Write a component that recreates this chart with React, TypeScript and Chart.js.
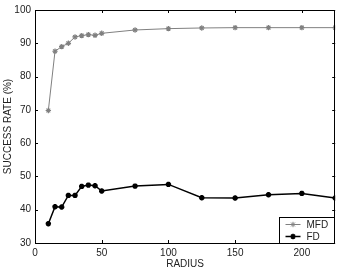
import React, { useEffect, useRef } from "react";
import { Chart, registerables } from "chart.js";
import { drawPoint } from "chart.js/helpers";

Chart.register(...registerables);

const radius = [10, 15, 20, 25, 30, 35, 40, 45, 50, 75, 100, 125, 150, 175, 200, 225];
const mfd = [69.8, 87.6, 89.0, 90.0, 91.9, 92.3, 92.6, 92.4, 93.0, 94.0, 94.4, 94.6, 94.7, 94.7, 94.7, 94.7];
const fd = [35.8, 40.9, 40.8, 44.3, 44.3, 47.0, 47.4, 47.2, 45.6, 47.1, 47.6, 43.6, 43.5, 44.5, 44.9, 43.5];
const seriesLabels = ["MFD", "FD"];
const xTicks = [0, 50, 100, 150, 200];
const yTicks = [30, 40, 50, 60, 70, 80, 90, 100];

const FONT = "'Liberation Sans', Arial, sans-serif";
const GRAY = "#808080";
const TXT = "#222";

const framePlugin = {
  id: "frame",
  afterDraw(chart: any) {
    const { ctx, chartArea: ca } = chart;
    const xs = chart.scales.x;
    const ys = chart.scales.y;
    ctx.save();
    ctx.strokeStyle = "#000";
    ctx.lineWidth = 1;
    ctx.strokeRect(Math.round(ca.left) + 0.5, Math.round(ca.top) + 0.5, Math.round(ca.right - ca.left) - 1, Math.round(ca.bottom - ca.top));
    ctx.beginPath();
    const tl = 3;
    xTicks.forEach((v) => {
      const px = Math.round(xs.getPixelForValue(v)) + 0.5;
      ctx.moveTo(px, ca.bottom);
      ctx.lineTo(px, ca.bottom - tl);
      ctx.moveTo(px, ca.top);
      ctx.lineTo(px, ca.top + tl);
    });
    yTicks.forEach((v) => {
      const py = Math.round(ys.getPixelForValue(v)) + 0.5;
      ctx.moveTo(ca.left, py);
      ctx.lineTo(ca.left + tl, py);
      ctx.moveTo(ca.right, py);
      ctx.lineTo(ca.right - tl, py);
    });
    ctx.stroke();

    // legend
    const w = 56, h = 26;
    const bx = Math.round(ca.right - w) + 0.5;
    const by = Math.round(ca.bottom - h) + 0.5;
    ctx.fillStyle = "#fff";
    ctx.fillRect(bx, by, w, h);
    ctx.strokeRect(bx, by, w - 1, h);
    chart.data.datasets.forEach((ds: any, i: number) => {
      const cy = by + 7 + i * 12;
      ctx.strokeStyle = ds.borderColor;
      ctx.lineWidth = ds.borderWidth;
      ctx.beginPath();
      ctx.moveTo(bx + 6, cy);
      ctx.lineTo(bx + 21, cy);
      ctx.stroke();
      ctx.strokeStyle = ds.pointBorderColor;
      drawPoint(ctx, { pointStyle: ds.pointStyle, radius: ds.pointRadius, borderWidth: ds.pointBorderWidth, rotation: 0 } as any, bx + 13.5, cy);
      ctx.fillStyle = TXT;
      ctx.font = `10px ${FONT}`;
      ctx.textBaseline = "middle";
      ctx.textAlign = "left";
      ctx.fillText(ds.label, bx + 27, cy + 0.5);
    });
    ctx.restore();
  },
};

export default function App() {
  const ref = useRef<HTMLCanvasElement>(null);
  useEffect(() => {
    document.body.style.margin = "0";
    const mk = (vals: number[]) => radius.map((x, i) => ({ x, y: vals[i] }));
    const chart = new Chart(ref.current!, {
      type: "scatter",
      data: {
        datasets: [
          {
            label: seriesLabels[0],
            data: mk(mfd),
            showLine: true,
            borderColor: GRAY,
            backgroundColor: GRAY,
            borderWidth: 1,
            pointStyle: "star",
            pointRadius: 2.7,
            pointBorderWidth: 1.2,
            pointBorderColor: GRAY,
          },
          {
            label: seriesLabels[1],
            data: mk(fd),
            showLine: true,
            borderColor: "#000",
            backgroundColor: "#000",
            borderWidth: 1.5,
            pointStyle: "star",
            pointRadius: 2.7,
            pointBorderWidth: 1.8,
            pointBorderColor: "#000",
          },
        ],
      },
      options: {
        responsive: false,
        animation: false,
        layout: { padding: { top: 5, right: 1, left: 0, bottom: 0 } },
        plugins: { legend: { display: false }, tooltip: { enabled: false } },
        scales: {
          x: {
            type: "linear",
            min: 0,
            max: 225,
            afterFit: (s: any) => { s.height = 28; },
            afterBuildTicks: (s: any) => { s.ticks = xTicks.map((v) => ({ value: v })); },
            grid: { display: false, drawTicks: false },
            border: { display: false },
            ticks: { color: TXT, font: { family: FONT, size: 10 }, padding: 4, maxRotation: 0 },
            title: { display: true, text: "RADIUS", color: TXT, font: { family: FONT, size: 10 }, padding: { top: 0, bottom: 1 } },
          },
          y: {
            type: "linear",
            min: 30,
            max: 100,
            afterFit: (s: any) => { s.width = 35; },
            afterBuildTicks: (s: any) => { s.ticks = yTicks.map((v) => ({ value: v })); },
            grid: { display: false, drawTicks: false },
            border: { display: false },
            ticks: { color: TXT, font: { family: FONT, size: 10 }, padding: 4 },
            title: { display: true, text: "SUCCESS RATE (%)", color: TXT, font: { family: FONT, size: 10 }, padding: { top: 2, bottom: 0 } },
          },
        },
      },
      plugins: [framePlugin],
    });
    return () => chart.destroy();
  }, []);
  return (
    <div style={{ width: 341, height: 271 }}>
      <canvas ref={ref} width={341} height={271} style={{ display: "block" }} />
    </div>
  );
}
